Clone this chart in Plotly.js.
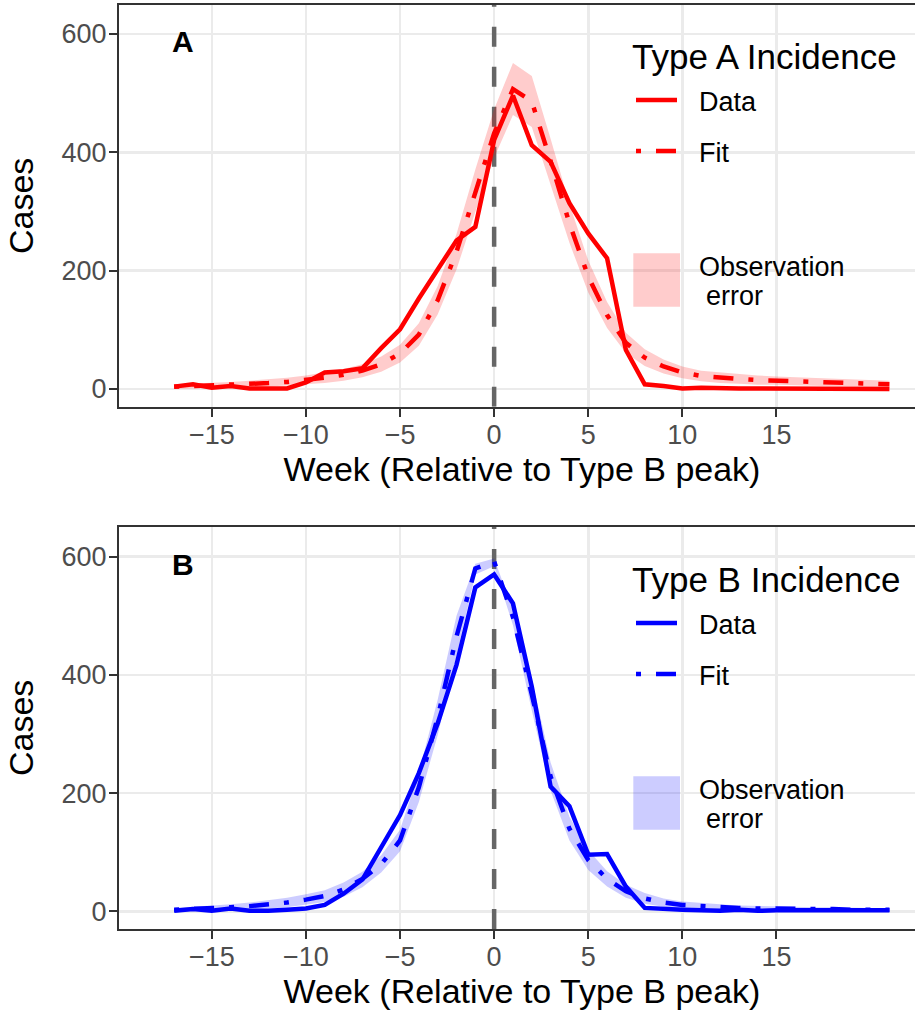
<!DOCTYPE html>
<html>
<head>
<meta charset="utf-8">
<script src="https://cdn.plot.ly/plotly-3.0.1.min.js"></script>
<style>
  html, body { margin: 0; padding: 0; overflow: hidden; background: #ffffff; }
  #chart { width: 925px; height: 1014px; }
</style>
</head>
<body>
<div id="chart"></div>
<script>
// ---------------- data ----------------
const weeks = [-17,-16,-15,-14,-13,-12,-11,-10,-9,-8,-7,-6,-5,-4,-3,-2,-1,0,1,2,3,4,5,6,7,8,9,10,11,12,13,14,15,16,17,18,19,20,21];

const typeAData = [4,8,2,5,1,1,1,11,28,30,35,69,101,153,203,251,274,
                   421,496,412,384,314,263,221,66,8,5,1,2,1,1,1,1,1,1,0,1,0,0];
const typeAFit  = [4,5,6,7,8,10,12,15,19,24,31,42,60,92,150,232,335,
                   432,507,486,385,280,190,125,78,53,38,28,22,19,17,15,14,13,12,11,10,9,8];
const typeALower = [0,1,1,2,2,4,5,7,10,14,20,29,45,73,126,202,299,
                    391,463,443,347,247,163,103,61,39,26,18,13,10,9,7,7,6,5,4,4,3,2];
const typeAUpper = [8,9,11,12,14,16,19,23,28,34,42,55,75,111,174,262,371,
                    473,551,529,423,313,217,147,95,67,50,38,31,28,25,23,21,20,19,18,16,15,14];

const typeBData = [1,4,1,5,1,1,3,5,11,30,54,110,163,234,318,417,548,
                   570,521,380,211,178,96,97,42,6,4,3,2,1,3,1,2,2,2,2,2,2,2];
const typeBFit  = [3,4,5,7,9,12,15,20,26,37,55,80,120,210,328,465,580,
                   592,498,367,228,140,87,55,34,22,15,11,9,7,6,5,5,4,4,4,3,3,3];
const typeBLower = [0,0,1,2,3,5,7,11,16,25,41,66,102,185,298,432,570,
                    584,484,340,204,120,70,42,23,13,8,5,4,2,2,1,1,1,1,1,0,0,0];
const typeBUpper = [6,8,9,12,15,19,23,29,36,49,67,95,138,235,358,500,588,
                    597,510,394,252,160,104,68,45,31,22,17,14,12,10,9,9,8,7,7,6,6,6];

const xTickVals = [-15,-10,-5,0,5,10,15];
const yTickVals = [0,200,400,600];
const peakWeek = 0;   // Type B peak (reference line)

const panelTags = ['A','B'];
const legendTitles = ['Type A Incidence','Type B Incidence'];
const legendLabels = ['Data','Fit'];
const ribbonLabel = ['Observation','error'];
const xTitle = 'Week (Relative to Type B peak)';
const yTitle = 'Cases';

// ---------------- styling ----------------
const FONT = 'Liberation Sans, Arial, Helvetica, sans-serif';
const RED = '#FF0000', BLUE = '#0000FF';
const RED_FILL = 'rgba(255,0,0,0.2)', BLUE_FILL = 'rgba(0,0,255,0.2)';
const LW = 4.5;
const DOTDASH = '5px,15px,20px,15px';

const W = 925, H = 1014;
const M = {l: 119, r: 0, t: 5, b: 85};
const PW = W - M.l - M.r, PH = H - M.t - M.b;
const X_RANGE = [-19.93, 22.89];
const Y_RANGE_A = [-29.9, 649];
const Y_RANGE_B = [-29.7, 650.7];
// convert picture pixels into paper coordinates (for legend keys / labels)
const px = x => (x - M.l) / PW;
const py = y => (H - M.b - y) / PH;

function panelTraces(xa, ya, lower, upper, data, fit, color, fill) {
  return [
    {x: weeks, y: lower, xaxis: xa, yaxis: ya, type: 'scatter', mode: 'lines',
     line: {width: 0, color: fill}, hoverinfo: 'skip', showlegend: false},
    {x: weeks, y: upper, xaxis: xa, yaxis: ya, type: 'scatter', mode: 'lines',
     line: {width: 0, color: fill}, fill: 'tonexty', fillcolor: fill, showlegend: false},
    {x: weeks, y: data, xaxis: xa, yaxis: ya, type: 'scatter', mode: 'lines',
     line: {width: LW, color: color}, name: 'Data', showlegend: false},
    {x: weeks, y: fit, xaxis: xa, yaxis: ya, type: 'scatter', mode: 'lines',
     line: {width: LW, color: color, dash: DOTDASH}, name: 'Fit', showlegend: false}
  ];
}

const traces = [
  ...panelTraces('x', 'y', typeALower, typeAUpper, typeAData, typeAFit, RED, RED_FILL),
  ...panelTraces('x2', 'y2', typeBLower, typeBUpper, typeBData, typeBFit, BLUE, BLUE_FILL)
];

function xAxis(anchor) {
  return {
    anchor: anchor, domain: [0, 1], range: X_RANGE,
    tickmode: 'array', tickvals: xTickVals,
    ticks: 'outside', ticklen: 8, tickwidth: 2, tickcolor: '#333333',
    ticklabelstandoff: -5,
    showline: true, linecolor: '#333333', linewidth: 2, mirror: true,
    showgrid: true, gridcolor: '#EBEBEB', gridwidth: 2.5, zeroline: false,
    tickfont: {family: FONT, size: 27, color: '#4D4D4D'},
    title: {text: xTitle, font: {family: FONT, size: 34, color: '#000000'}, standoff: 8},
    fixedrange: true
  };
}
function yAxis(anchor, domain, range) {
  return {
    anchor: anchor, domain: domain, range: range,
    tickmode: 'array', tickvals: yTickVals,
    ticks: 'outside', ticklen: 8, tickwidth: 2, tickcolor: '#333333',
    ticklabelstandoff: -3,
    showline: true, linecolor: '#333333', linewidth: 2, mirror: true,
    showgrid: true, gridcolor: '#EBEBEB', gridwidth: 2.5, zeroline: false,
    tickfont: {family: FONT, size: 27, color: '#4D4D4D'},
    title: {text: yTitle, font: {family: FONT, size: 34, color: '#000000'}, standoff: 18},
    fixedrange: true
  };
}

const domA = [py(406.7), 1];
const domB = [0, py(526.7)];

const shapes = [];
const annotations = [];

// reference line at the Type B peak, spanning each panel's full y range
[['x','y',Y_RANGE_A],['x2','y2',Y_RANGE_B]].forEach(([xa, ya, yr]) => {
  shapes.push({type: 'line', layer: 'between', xref: xa, yref: ya,
    x0: peakWeek, x1: peakWeek, y0: yr[0], y1: yr[1],
    line: {color: '#666666', width: 4.5, dash: '20px,20px'}});
});

// legends drawn as keys + labels (one per panel)
const legendSpecs = [
  {dy: 0, color: RED, fill: RED_FILL, title: legendTitles[0], tag: panelTags[0]},
  {dy: 523, color: BLUE, fill: BLUE_FILL, title: legendTitles[1], tag: panelTags[1]}
];
legendSpecs.forEach(s => {
  const d = s.dy;
  annotations.push({xref: 'paper', yref: 'paper', x: px(630), y: py(56 + d),
    xanchor: 'left', yanchor: 'middle', showarrow: false, text: s.title,
    font: {family: FONT, size: 35, color: '#000000'}});
  shapes.push({type: 'line', layer: 'above', xref: 'paper', yref: 'paper',
    x0: px(636), x1: px(677), y0: py(100 + d), y1: py(100 + d),
    line: {color: s.color, width: LW}});
  annotations.push({xref: 'paper', yref: 'paper', x: px(697), y: py(102 + d),
    xanchor: 'left', yanchor: 'middle', showarrow: false, text: legendLabels[0],
    font: {family: FONT, size: 27, color: '#000000'}});
  shapes.push({type: 'line', layer: 'above', xref: 'paper', yref: 'paper',
    x0: px(636), x1: px(677), y0: py(151 + d), y1: py(151 + d),
    line: {color: s.color, width: LW, dash: DOTDASH}});
  annotations.push({xref: 'paper', yref: 'paper', x: px(697), y: py(153 + d),
    xanchor: 'left', yanchor: 'middle', showarrow: false, text: legendLabels[1],
    font: {family: FONT, size: 27, color: '#000000'}});
  shapes.push({type: 'rect', layer: 'above', xref: 'paper', yref: 'paper',
    x0: px(633.3), x1: px(680), y0: py(306.7 + d), y1: py(253.3 + d),
    fillcolor: s.fill, line: {width: 0}});
  annotations.push({xref: 'paper', yref: 'paper', x: px(697), y: py(267 + d),
    xanchor: 'left', yanchor: 'middle', showarrow: false, text: ribbonLabel[0],
    font: {family: FONT, size: 27, color: '#000000'}});
  annotations.push({xref: 'paper', yref: 'paper', x: px(704), y: py(296 + d),
    xanchor: 'left', yanchor: 'middle', showarrow: false, text: ribbonLabel[1],
    font: {family: FONT, size: 27, color: '#000000'}});
  // panel tag
  annotations.push({xref: 'paper', yref: 'paper', x: px(182.5), y: py(41 + d),
    xanchor: 'center', yanchor: 'middle', showarrow: false, text: '<b>' + s.tag + '</b>',
    font: {family: FONT, size: 30, color: '#000000'}});
});

const layout = {
  width: W, height: H, margin: M,
  paper_bgcolor: '#ffffff', plot_bgcolor: '#ffffff',
  showlegend: false,
  xaxis: xAxis('y'),
  yaxis: yAxis('x', domA, Y_RANGE_A),
  xaxis2: xAxis('y2'),
  yaxis2: yAxis('x2', domB, Y_RANGE_B),
  shapes: shapes,
  annotations: annotations
};

Plotly.newPlot('chart', traces, layout, {staticPlot: true, displayModeBar: false});
</script>
</body>
</html>
